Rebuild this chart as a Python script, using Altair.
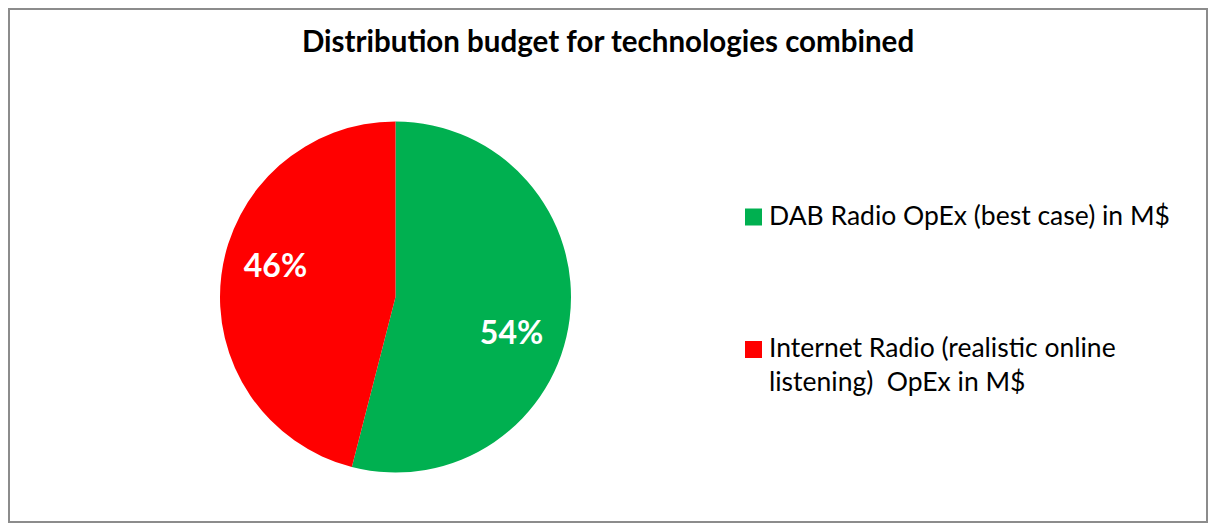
import altair as alt
import pandas as pd

# ---- data ----
categories = ["DAB Radio OpEx (best case) in M$",
              "Internet Radio (realistic online listening)  OpEx in M$"]
legend_lines = [["DAB Radio OpEx (best case) in M$"],
                ["Internet Radio (realistic online", "listening)\u00a0 OpEx in M$"]]
shares = [54, 46]
pct_labels = ["54%", "46%"]
colors = ["#00B050", "#FF0000"]
title_text = "Distribution budget for technologies combined"

W, H = 1200, 515
CX, CY, R = 387.5, 289, 175.5
FONT = "Lato"

df = pd.DataFrame({
    "category": categories,
    "share": shares,
    "label": pct_labels,
    "order": [0, 1],
    "lines": legend_lines,
})

color_scale = alt.Scale(domain=categories, range=colors)
base = alt.Chart(df)

pie = base.mark_arc(radius=R, strokeWidth=0).encode(
    theta=alt.Theta("share:Q", stack=True),
    color=alt.Color("category:N", scale=color_scale, legend=None),
    order=alt.Order("order:Q"),
    x=alt.value(CX), y=alt.value(CY),
)

stacked = base.transform_stack(
    stack="share", as_=["s0", "s1"], groupby=[],
    sort=[alt.SortField("order", order="ascending")],
).transform_joinaggregate(total="sum(share)").transform_calculate(
    mid="(datum.s0 + datum.s1) / 2 / datum.total"
)

def pct_layer(idx, dx, dy):
    return stacked.transform_filter(alt.datum.order == idx).mark_text(
        radius=122, font=FONT, fontSize=32, fontWeight="bold", color="white",
        baseline="middle", align="center", dx=dx, dy=dy,
    ).encode(
        theta=alt.Theta("mid:Q", stack=None, scale=alt.Scale(domain=[0, 1])),
        text="label:N",
        x=alt.value(CX), y=alt.value(CY),
    )

lab_green = pct_layer(0, -5, 22)
lab_red = pct_layer(1, 1, -15)

leg_sq = base.mark_square(size=289, opacity=1).encode(
    x=alt.value(745.5),
    y=alt.Y("order:Q", scale=alt.Scale(domain=[0, 1], range=[209, 341.5]), axis=None),
    color=alt.Color("category:N", scale=color_scale, legend=None),
)
leg_txt = base.mark_text(
    font=FONT, fontSize=26.5, align="left", baseline="alphabetic", lineHeight=34,
    color="black",
).encode(
    x=alt.value(761),
    y=alt.Y("order:Q", scale=alt.Scale(domain=[0, 1], range=[217, 349]), axis=None),
    text="lines",
)

title = alt.Chart(pd.DataFrame({"t": [title_text]})).mark_text(
    font=FONT, fontSize=29.5, fontWeight="bold", align="center",
    baseline="alphabetic", color="black",
).encode(x=alt.value(W / 2), y=alt.value(44), text="t:N")

border = alt.Chart(pd.DataFrame({"a": [0]})).mark_rect(
    fill="white", stroke="#8c8c8c", strokeWidth=2,
).encode(x=alt.value(1), x2=alt.value(W - 1), y=alt.value(1), y2=alt.value(H - 1))

chart = alt.layer(border, pie, lab_green, lab_red, leg_sq, leg_txt, title).properties(
    width=W, height=H, padding=0, autosize=alt.AutoSizeParams(type="none"),
).resolve_scale(theta="independent", y="independent").configure_view(stroke=None)

chart.save("out.html", embed_options={"renderer": "svg", "actions": False})
